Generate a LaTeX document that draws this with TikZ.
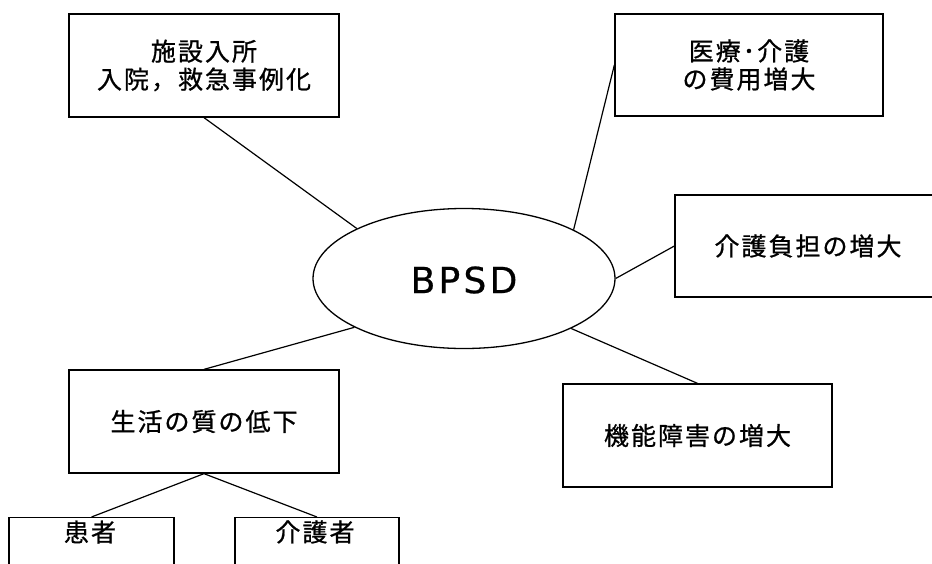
\documentclass[tikz,border=0pt]{standalone}
\usepackage{fontspec}
\usetikzlibrary{shapes.geometric}
\newfontfamily\jpfont[LetterSpace=8,FakeBold=0.8]{Noto Sans CJK JP}
\newfontfamily\bpsdfont[LetterSpace=9,FakeBold=0.6]{DejaVu Sans}
\tikzset{
  box/.style={draw, line width=1.3pt, rectangle, inner sep=0pt, align=center,
    font=\jpfont\fontsize{25}{28}\selectfont},
  jptext/.style={inner sep=0pt, font=\jpfont\fontsize{25}{28}\selectfont},
  link/.style={line width=1.2pt},
}
\begin{document}
\begin{tikzpicture}[x=1pt,y=-1pt]
\clip (0,0) rectangle (932,563);
\fill[white] (0,0) rectangle (932,563);
\node[draw, ellipse, line width=1.3pt, inner sep=0pt, minimum width=302pt, minimum height=140pt] (bpsd) at (464,278.5) {};
\node[inner sep=0pt, font=\bpsdfont\fontsize{36}{40}\selectfont] (bpsdlabel) at (464,280) {BPSD};
\node[box, minimum width=270pt, minimum height=103pt] (admit) at (204,65.5) {施設入所\\入院，救急事例化};
\node[box, minimum width=268pt, minimum height=102pt] (cost) at (749,65) {医療･介護\\の費用増大};
\node[box, minimum width=266pt, minimum height=102pt] (burden) at (808,246) {介護負担の増大};
\node[box, minimum width=270pt, minimum height=103pt] (qol) at (204,421.5) {生活の質の低下};
\node[box, minimum width=269pt, minimum height=103pt] (func) at (697.5,435.5) {機能障害の増大};
\node[box, minimum width=165pt, minimum height=100pt, anchor=north] (patient) at (91.5,517) {};
\node[box, minimum width=164pt, minimum height=100pt, anchor=north] (carer) at (317,517) {};
\node[jptext] (patientlabel) at (90,532) {患者};
\node[jptext] (carerlabel) at (315,532) {介護者};
\draw[link] (admit.south) -- (bpsd.155.4);
\draw[link] (cost.west) -- (bpsd.24.6);
\draw[link] (burden.west) -- (bpsd.east);
\draw[link] (qol.north) -- (bpsd.204.7);
\draw[link] (func.north) -- (bpsd.335);
\draw[link] (qol.south) -- (patient.north);
\draw[link] (qol.south) -- (carer.north);
\end{tikzpicture}
\end{document}
